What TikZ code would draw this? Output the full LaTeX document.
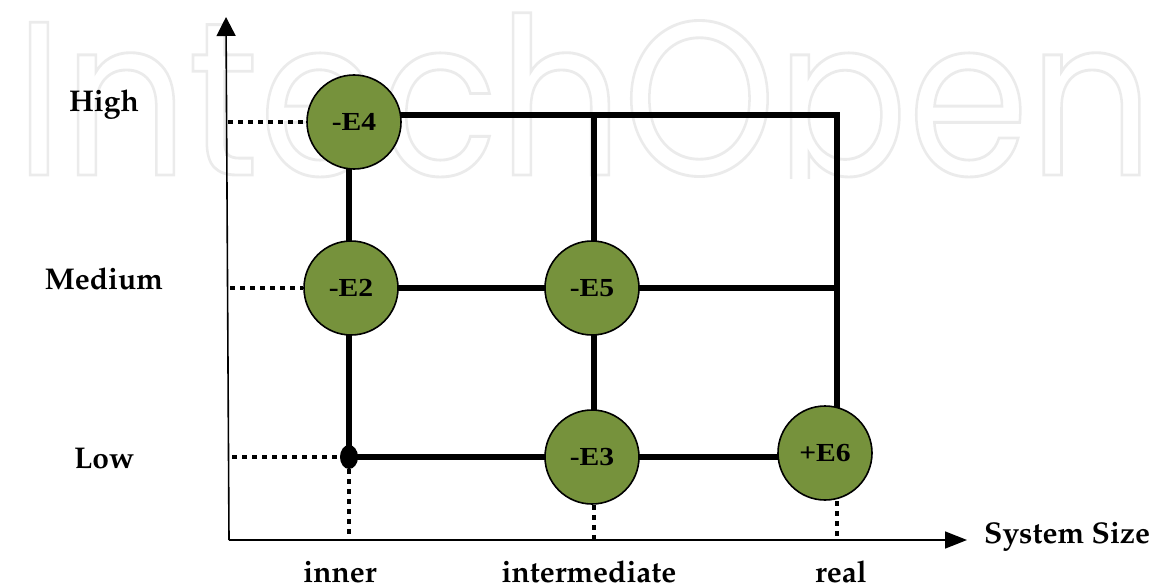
\documentclass[tikz,border=0pt]{standalone}
\usepackage[T1]{fontenc}
\usepackage{fontspec}
\newfontfamily\tnr{Liberation Serif}
\newfontfamily\wmfont{Poppins}
\usetikzlibrary{arrows.meta,shapes.geometric}
\newcommand{\pal}{\fontencoding{T1}\fontfamily{ppl}\bfseries\selectfont}
\newcommand{\elab}[1]{\scalebox{1.14}[1]{#1}}
\newcommand{\outlinetext}[1]{\special{pdf:literal direct 1 Tr 0.13 w 0.92 G}#1\special{pdf:literal direct 0 Tr}}
\definecolor{olive}{RGB}{118,146,60}
\tikzset{
  axis/.style={line width=1.6pt},
  grid/.style={line width=6pt, line join=miter},
  dots/.style={line width=4.5pt, dash pattern=on 5pt off 5pt},
  enode/.style={circle, draw=black, line width=1.6pt, fill=olive, minimum size=94pt, inner sep=0pt, font=\tnr\bfseries\fontsize{26}{26}\selectfont},
  dotnode/.style={ellipse, fill=black, minimum width=18pt, minimum height=24pt, inner sep=0pt},
  lab/.style={font=\pal\fontsize{30}{30}\selectfont, inner sep=0pt}
}
\begin{document}
\begin{tikzpicture}[x=1pt,y=-1pt]
\useasboundingbox (0,0) rectangle (1155,583);
% watermark
\begin{scope}
\clip (0,0) rectangle (1155,178);
\node[anchor=base west, inner sep=0pt] (wmark) at (15,175) {\resizebox{1138pt}{162pt}{\outlinetext{\wmfont IntechOpen}}};
\end{scope}
% axes
\coordinate (O) at (229,540);
\coordinate (Ytop) at (226,17);
\coordinate (Xend) at (967,540);
\draw[axis, -{Triangle[length=19pt,width=19pt]}] (O) -- (Ytop);
\draw[axis, -{Triangle[length=22pt,width=17pt]}] (O) -- (Xend);
% grid points
\coordinate (c11) at (349,115);
\coordinate (c21) at (594,115);
\coordinate (c31) at (837,115);
\coordinate (c12) at (349,288);
\coordinate (c22) at (594,288);
\coordinate (c32) at (837,288);
\coordinate (c13) at (349,457);
\coordinate (c23) at (594,457);
\coordinate (c33) at (837,457);
% thick grid lines
\draw[grid] (c11) -- (c31) -- (c33);
\draw[grid] (c21) -- (c23);
\draw[grid] (c11) -- (c13) -- (c33);
\draw[grid] (c12) -- (c32);
% nodes
\node[enode] (E4) at (354,122) {\elab{-E4}};
\node[enode] (E2) at (351,288) {\elab{-E2}};
\node[enode] (E5) at (592,288) {\elab{-E5}};
\node[enode] (E3) at (592,457) {\elab{-E3}};
\node[enode] (E6) at (825,453) {\elab{+E6}};
\node[dotnode] (D) at (c13) {};
% dotted guides
\coordinate (yh) at (228,122);
\coordinate (ym) at (230,288);
\coordinate (yl) at (232,457);
\coordinate (xi) at (349,540);
\coordinate (xm) at (594,540);
\coordinate (xr) at (837,540);
\draw[dots] (yh) -- (E4.west);
\draw[dots] (ym) -- (E2.west);
\draw[dots] (yl) -- (D.west);
\draw[dots] (D.south) -- (xi);
\draw[dots] (E3.south -| xm) -- (xm);
\draw[dots] (E6.south -| xr) -- (xr);
% labels
\node[lab] (lh) at (104,105) {High};
\node[lab] (lm) at (104,279) {Medium};
\node[lab] (ll) at (104,459) {Low};
\node[lab, anchor=base] (li) at (340,582) {inner};
\node[lab, anchor=base] (lt) at (589,582) {intermediate};
\node[lab, anchor=base] (lr) at (841,582) {real};
\node[lab, anchor=west] (ls) at (984,537) {System Size};
\end{tikzpicture}
\end{document}
